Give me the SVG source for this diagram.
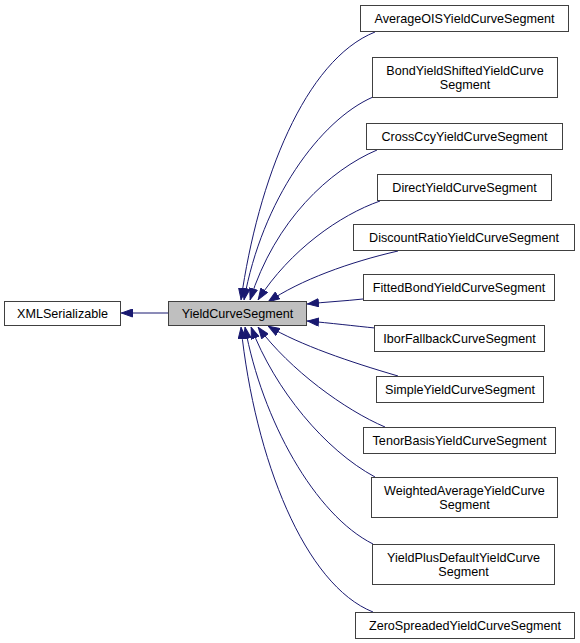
<svg xmlns="http://www.w3.org/2000/svg" width="580" height="643" viewBox="0 0 580 643">
<style>
.n rect{fill:#ffffff;stroke:#404040;stroke-width:1}
.n text{font-family:"Liberation Sans",Arial,sans-serif;font-size:12.6px;fill:#000;text-anchor:middle}
#n_ycs rect{fill:#bfbfbf}
.e path{fill:none;stroke:#191970;stroke-width:1;marker-end:url(#arr)}
</style>
<defs>
<marker id="arr" viewBox="0 0 12 9" refX="12" refY="4.5" markerWidth="12" markerHeight="9" markerUnits="userSpaceOnUse" orient="auto">
<path d="M0.5,0.5 L11.5,4.5 L0.5,8.5 z" fill="#191970" stroke="#191970" stroke-width="1"/>
</marker>
</defs>
<rect width="580" height="643" fill="#ffffff"/>
<g id="edges" class="e">
<path d="M168,313 L121,313"/>
<path d="M375,32 C305,60 258,180 241,300"/>
<path d="M373,97 C320,120 262,200 244,300"/>
<path d="M377,150 C330,170 275,220 250,300"/>
<path d="M380,201 C340,215 290,250 258,300"/>
<path d="M398,251 C350,262 300,280 268,302"/>
<path d="M363,299 C345,301 325,302 307,304"/>
<path d="M375,328 C355,326 330,323 307,321"/>
<path d="M398,376 C350,362 300,345 268,326"/>
<path d="M385,427 C345,410 290,370 258,327"/>
<path d="M375,477 C325,450 275,390 251,327"/>
<path d="M373,544 C315,515 262,420 245,327"/>
<path d="M373,612 C305,585 255,460 241,327"/>
</g>
<g id="n_xml" class="n"><rect x="4.5" y="301.5" width="116" height="24"/><text x="62.5" y="318">XMLSerializable</text></g>
<g id="n_ycs" class="n"><rect x="168.5" y="301.5" width="138" height="24"/><text x="237.5" y="318">YieldCurveSegment</text></g>
<g id="n1" class="n"><rect x="360.5" y="5.5" width="208" height="26"/><text x="464.5" y="23">AverageOISYieldCurveSegment</text></g>
<g id="n2" class="n"><rect x="372.5" y="57.5" width="185" height="40"/><text x="465" y="75">BondYieldShiftedYieldCurve</text><text x="465" y="89">Segment</text></g>
<g id="n3" class="n"><rect x="366.5" y="123.5" width="196" height="26"/><text x="464.5" y="141">CrossCcyYieldCurveSegment</text></g>
<g id="n4" class="n"><rect x="377.5" y="174.5" width="174" height="26"/><text x="464.5" y="192">DirectYieldCurveSegment</text></g>
<g id="n5" class="n"><rect x="353.5" y="224.5" width="221" height="26"/><text x="464" y="242">DiscountRatioYieldCurveSegment</text></g>
<g id="n6" class="n"><rect x="363.5" y="274.5" width="191" height="26"/><text x="459" y="292">FittedBondYieldCurveSegment</text></g>
<g id="n7" class="n"><rect x="374.5" y="325.5" width="170" height="26"/><text x="459.5" y="343">IborFallbackCurveSegment</text></g>
<g id="n8" class="n"><rect x="376.5" y="376.5" width="167" height="26"/><text x="460" y="394">SimpleYieldCurveSegment</text></g>
<g id="n9" class="n"><rect x="363.5" y="427.5" width="192" height="26"/><text x="459.5" y="445">TenorBasisYieldCurveSegment</text></g>
<g id="n10" class="n"><rect x="371.5" y="477.5" width="186" height="40"/><text x="464.5" y="495">WeightedAverageYieldCurve</text><text x="464.5" y="509">Segment</text></g>
<g id="n11" class="n"><rect x="372.5" y="544.5" width="182" height="40"/><text x="463.5" y="562">YieldPlusDefaultYieldCurve</text><text x="463.5" y="576">Segment</text></g>
<g id="n12" class="n"><rect x="355.5" y="612.5" width="219" height="26"/><text x="465" y="630">ZeroSpreadedYieldCurveSegment</text></g>
</svg>
